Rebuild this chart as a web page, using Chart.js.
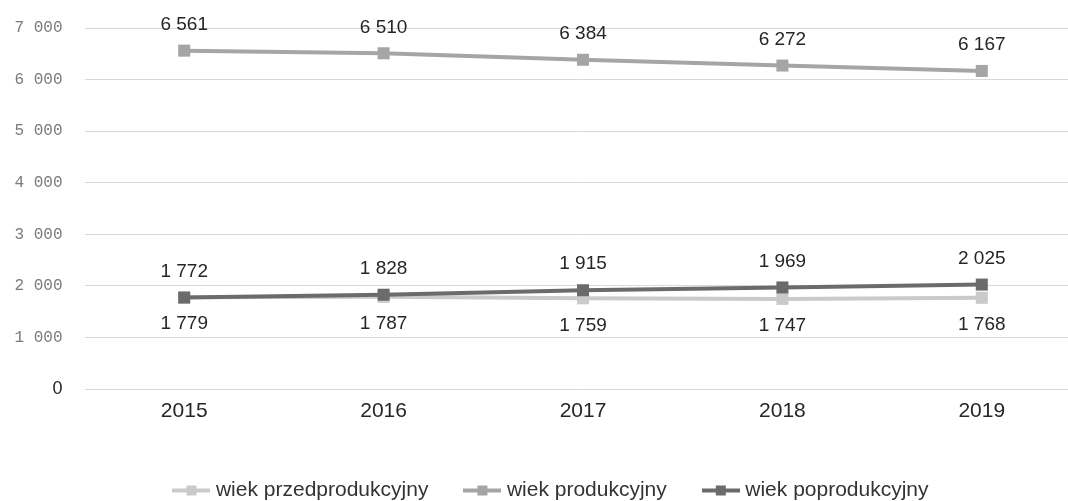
<!DOCTYPE html>
<html lang="pl">
<head>
<meta charset="utf-8">
<script src="https://cdn.jsdelivr.net/npm/chart.js@4.4.1/dist/chart.umd.min.js"></script>
<style>
  html, body { margin: 0; padding: 0; background: #fff; overflow: hidden; }
  #wrap { position: absolute; left: 0; top: 0; width: 1090px; height: 511px; }
</style>
</head>
<body>
<div id="wrap"><canvas id="wykres"></canvas></div>
<script>
// dane
const lata = ["2015", "2016", "2017", "2018", "2019"];
const nazwy = ["wiek przedprodukcyjny", "wiek produkcyjny", "wiek poprodukcyjny"];
const przedprodukcyjny = [1779, 1787, 1759, 1747, 1768];
const produkcyjny = [6561, 6510, 6384, 6272, 6167];
const poprodukcyjny = [1772, 1828, 1915, 1969, 2025];
const osY = { min: 0, max: 7000, krok: 1000 };

const kolory = ["#cacaca", "#a5a5a5", "#6b6b6b"];
const gdzieEtykieta = ["below", "above", "above"];
const FONT = "'Liberation Sans', Arial, sans-serif";

function fmt(n) {
    return String(n).replace(/\B(?=(\d{3})+(?!\d))/g, " ");
}

// ikonka legendy: linia + kwadrat
function ikona(kolor) {
    const c = document.createElement("canvas");
    c.width = 38; c.height = 12;
    const g = c.getContext("2d");
    g.fillStyle = kolor;
    g.fillRect(0, 4, 38, 4);
    g.fillRect(14, 1, 10, 10);
    return c;
}
const ikony = kolory.map(ikona);

// etykiety wartosci + przesuniecie legendy
const etykiety = {
    id: "etykiety",
    afterLayout(chart) {
        if (chart.legend) { chart.legend.left += 8; chart.legend.right += 8; }
    },
    afterDatasetsDraw(chart) {
        const ctx = chart.ctx;
        ctx.save();
        ctx.font = "19px " + FONT;
        ctx.fillStyle = "#262626";
        ctx.textAlign = "center";
        ctx.textBaseline = "middle";
        chart.data.datasets.forEach((ds, i) => {
            const meta = chart.getDatasetMeta(i);
            meta.data.forEach((p, j) => {
                const dy = gdzieEtykieta[i] === "above" ? -26 : 27;
                ctx.fillText(fmt(ds.data[j]), p.x, p.y + dy);
            });
        });
        ctx.restore();
    },
};

const serie = [przedprodukcyjny, produkcyjny, poprodukcyjny];
const kolejnosc = [2, 1, 0];

new Chart(document.getElementById("wykres"), {
    type: "line",
    data: {
        labels: lata,
        datasets: serie.map((s, i) => ({
            label: nazwy[i],
            data: s,
            borderColor: kolory[i],
            backgroundColor: kolory[i],
            borderWidth: 4,
            pointStyle: "rect",
            pointRadius: 8.5,
            pointHoverRadius: 8.5,
            pointBorderWidth: 0,
            tension: 0,
            order: kolejnosc[i],
        })),
    },
    options: {
        responsive: true,
        maintainAspectRatio: false,
        animation: false,
        layout: { padding: { top: 28, left: 0, right: 0, bottom: 0 } },
        scales: {
            x: {
                offset: true,
                grid: { display: false, drawTicks: false, offset: true },
                border: { display: false },
                ticks: { color: "#262626", font: { family: FONT, size: 21 }, padding: 10 },
                afterFit: (s) => { s.height = 51; },
            },
            y: {
                min: osY.min,
                max: osY.max,
                grid: { color: "#d9d9d9", lineWidth: 1, drawTicks: true, tickLength: 22, tickColor: "rgba(0,0,0,0)" },
                border: { display: false },
                ticks: {
                    stepSize: osY.krok,
                    padding: 0,
                    callback: (v) => fmt(v),
                    color: (c) => (c.tick && c.tick.value === 0 ? "#262626" : "#7a7a7a"),
                    font: (c) => (c.tick && c.tick.value === 0
                        ? { family: FONT, size: 18 }
                        : { family: "'Liberation Mono', monospace", size: 16 }),
                },
                afterFit: (s) => { s.width = 84.5; },
            },
        },
        plugins: {
            tooltip: { enabled: false },
            legend: {
                position: "bottom",
                labels: {
                    usePointStyle: true,
                    pointStyleWidth: 28,
                    padding: 40,
                    color: "#333333",
                    font: { family: FONT, size: 21 },
                    generateLabels: (chart) => {
                        const items = Chart.defaults.plugins.legend.labels.generateLabels(chart);
                        items.sort((a, b) => a.datasetIndex - b.datasetIndex);
                        items.forEach((it) => { it.pointStyle = ikony[it.datasetIndex]; });
                        return items;
                    },
                },
            },
        },
    },
    plugins: [etykiety],
});
</script>
</body>
</html>
